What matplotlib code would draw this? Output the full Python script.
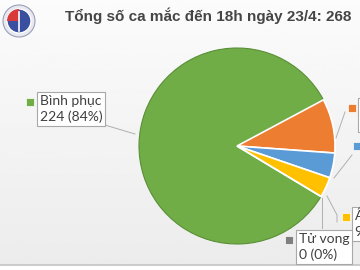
import matplotlib
matplotlib.use("Agg")
import matplotlib.pyplot as plt
import numpy as np
from matplotlib.patches import Circle, Rectangle, Wedge

plt.rcParams['font.family'] = ['Lato', 'DejaVu Sans']

title = "Tổng số ca mắc đến 18h ngày 23/4: 268"
labels = ['Bình phục', 'Đang điều trị', 'Âm tính lần 1', 'Âm tính lần 2 trở lên', 'Tử vong']
values = [224, 24, 11, 9, 0]
colors = ['#70AD47', '#ED7D31', '#5B9BD5', '#FFC000', '#7F7F7F']

total = sum(values)
texts = [f"{lab}\n{v} ({round(100 * v / total)}%)" for lab, v in zip(labels, values)]

fig = plt.figure(figsize=(3.6, 2.7), dpi=100)
ax = fig.add_axes([0, 0, 1, 1])
ax.set_xlim(0, 360)
ax.set_ylim(0, 270)
ax.axis('off')

# background: light grey gradient with a thin line at the bottom
grad = np.linspace(0.985, 0.925, 100).reshape(-1, 1)
ax.imshow(grad, cmap='gray', vmin=0, vmax=1, extent=(0, 360, 5, 270),
          aspect='auto', zorder=0)
ax.add_patch(Rectangle((0, 0), 360, 5, color='white', zorder=0.5))
ax.plot([0, 360], [5, 5], color='#c4c4c4', lw=1.2, zorder=0.6)

# logo
ax.add_patch(Circle((19, 249), 16, facecolor='#e8e8f0', edgecolor='#9aa0b8', lw=0.8, zorder=2))
ax.add_patch(Circle((19, 249), 12, facecolor='#3b4fa0', edgecolor='white', lw=1.0, zorder=3))
ax.add_patch(Wedge((19, 249), 12, 90, 180, facecolor='#d83a3a', zorder=4))
ax.plot([19, 19], [239, 258], color='white', lw=1.2, zorder=5)

ax.text(65, 254, title, fontsize=11, fontweight='bold', color='#454545',
        ha='left', va='center', family=['Liberation Sans', 'DejaVu Sans'])

# pie
cx, cy, r = 237, 124, 98
wedges, _ = ax.pie(values, colors=colors, startangle=-31, counterclock=False,
                   center=(cx, cy), radius=r, explode=[0, 0.03, 0.03, 0.03, 0.03],
                   wedgeprops=dict(edgecolor='white', linewidth=1.2))
wedges[0].set_edgecolor('#5a8f38')
wedges[0].set_linewidth(0.8)
ax.set_xlim(0, 360)
ax.set_ylim(0, 270)
ax.set_aspect('auto')

lc = '#b0b0b0'
# label positions (x of box left, y of box center), marker x
label_pos = [(37, 161, 30), (358, 155, 352), (362, 117, 357), (352, 46, 346), (296, 23, 289)]
for (bx, by, mx), txt, col in zip(label_pos, texts, colors):
    ax.add_patch(Rectangle((mx - 4, by + 3), 8, 8, facecolor=col, edgecolor='white', lw=0.5, zorder=6))
    ax.text(bx + 3, by, txt, fontsize=10, color='#404040', ha='left', va='center',
            linespacing=1.3, zorder=6,
            bbox=dict(boxstyle='square,pad=0.2', facecolor='white', edgecolor='#a8a8a8', lw=0.8))

# leader lines
ax.plot([88, 135], [150, 136], color=lc, lw=0.7, zorder=1)
ax.plot([336, 345], [132, 158], color=lc, lw=0.7, zorder=7)
ax.plot([334, 352], [92, 115], color=lc, lw=0.7, zorder=7)
ax.plot([327, 337, 337], [74, 55, 48], color=lc, lw=0.7, zorder=7)
ax.plot([322, 322], [72, 42], color=lc, lw=0.7, zorder=7)

fig.savefig('out.png', dpi=100)
